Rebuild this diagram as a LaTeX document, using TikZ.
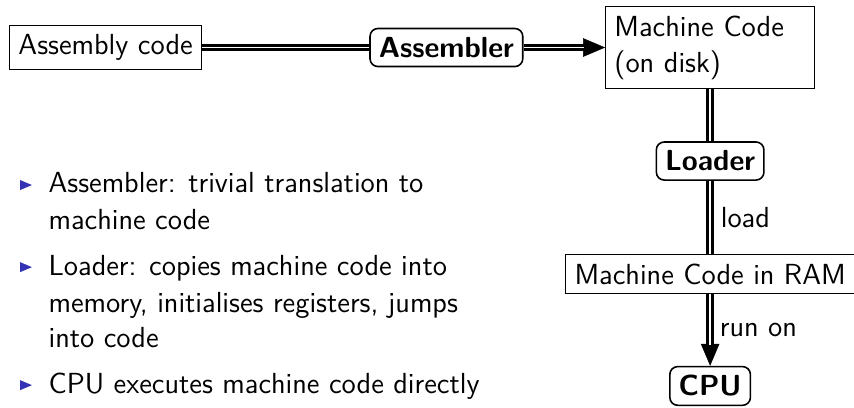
\documentclass[tikz,border=0pt]{standalone}
\usetikzlibrary{arrows.meta}
\definecolor{structure}{RGB}{51,51,179}
\tikzset{
  every node/.style={font=\sffamily\fontsize{11}{13.6}\selectfont},
  sqbox/.style={draw, line width=0.4pt, inner sep=3.33pt},
  rbox/.style={draw, rounded corners=3pt, line width=0.6pt, inner sep=3.33pt,
    font=\sffamily\bfseries\fontsize{11}{13.6}\selectfont},
  dbl/.style={double, line width=1.1pt, double distance=0.7pt},
  dblend/.style={dbl, shorten >=7.9pt},
  tipline/.style={draw=white, line width=0.2pt, -{Triangle[length=8.3pt,width=7pt,color=black]}},
  lbl/.style={right, inner sep=3.5pt},
  itemline/.style={anchor=base west, inner sep=0pt},
  bullet/.style={fill=structure}
}
\begin{document}
\begin{tikzpicture}[x=1pt, y=-1pt]
\useasboundingbox (0,0) rectangle (323.5,154.5);

% diagram nodes
\node[sqbox] (asm) at (40,18) {Assembly code};
\node[rbox] (assembler) at (169.1,18) {Assembler};
\node[sqbox, text width=72.5pt, align=left] (mcd) at (269,18) {Machine Code\\(on disk)};
\node[rbox] (loader) at (269,61) {Loader};
\node[sqbox] (ram) at (269,103.8) {Machine Code in RAM};
\node[rbox] (cpu) at (269,146.2) {CPU};

% connectors
\draw[dbl] (asm) -- (assembler);
\draw[tipline] (assembler) -- (mcd);
\draw[dblend] (assembler) -- (mcd);
\draw[dbl] (mcd) -- (loader);
\draw[dbl] (loader) -- node[lbl] (lload) {load} (ram);
\draw[tipline] (ram) -- (cpu);
\draw[dblend] (ram) -- (cpu);
\path (ram) -- node[lbl] (lrun) {run on} (cpu);

% bullet list
\fill[bullet] (7.6,68.2) -- (7.6,72.0) -- (12.1,70.1) -- cycle;
\node[itemline] (i1a) at (18.2,73.1) {Assembler: trivial translation to};
\node[itemline] (i1b) at (18.2,87.1) {machine code};
\fill[bullet] (7.6,99.3) -- (7.6,103.1) -- (12.1,101.2) -- cycle;
\node[itemline] (i2a) at (18.2,104.2) {Loader: copies machine code into};
\node[itemline] (i2b) at (18.2,118.2) {memory, initialises registers, jumps};
\node[itemline] (i2c) at (18.2,131.8) {into code};
\fill[bullet] (7.6,144.0) -- (7.6,147.8) -- (12.1,145.9) -- cycle;
\node[itemline] (i3a) at (18.2,148.9) {CPU executes machine code directly};
\end{tikzpicture}
\end{document}
